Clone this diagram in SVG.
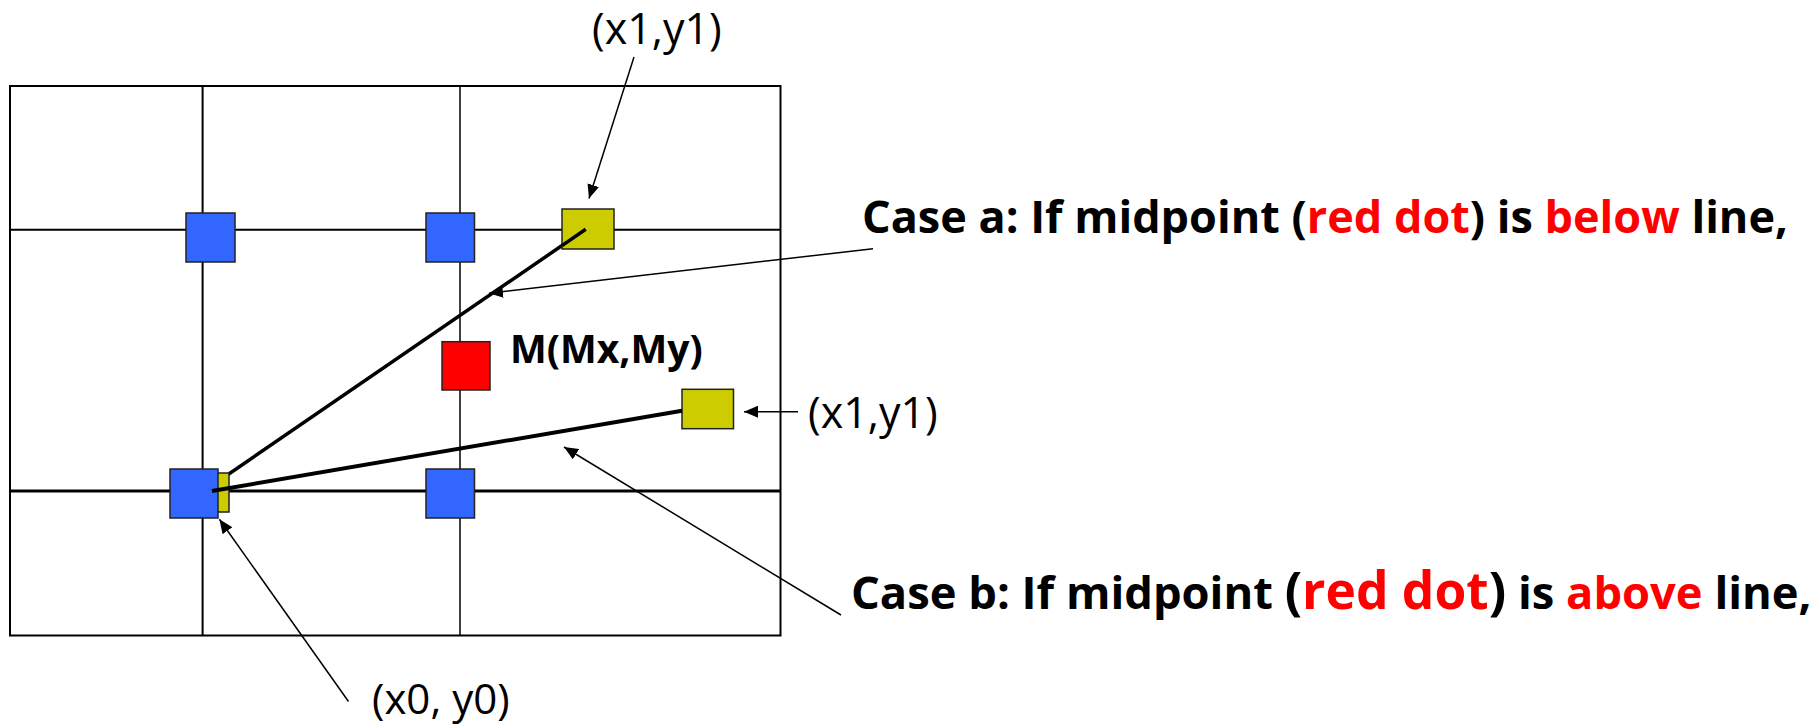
<svg xmlns="http://www.w3.org/2000/svg" width="1817" height="727" viewBox="0 0 1817 727">
<style>
.grid{stroke:#000;fill:none}
.sq{stroke:#222;stroke-width:1.5}
.blue{fill:#3366FF}
.yel{fill:#CCCC00}
.red{fill:#FF0000}
.thick{stroke:#000;fill:none}
.conn{stroke:#000;stroke-width:1.5;fill:none;marker-end:url(#ah)}
.lbl{font-family:"Open Sans","Noto Sans",sans-serif;fill:#000}
.big{font-family:"Open Sans","Noto Sans",sans-serif;font-weight:bold;fill:#000}
.r{fill:#FF0000}
</style>
<defs>
<marker id="ah" viewBox="0 0 14 12" refX="14" refY="6" markerWidth="14" markerHeight="12" markerUnits="userSpaceOnUse" orient="auto">
<path d="M0,0 L14,6 L0,12 Z" fill="#000"/>
</marker>
</defs>
<rect width="1817" height="727" fill="#fff"/>
<g id="grid">
<rect class="grid" x="10" y="86" width="770.5" height="549.5" stroke-width="2"/>
<line class="grid" x1="202.6" y1="86" x2="202.6" y2="635.5" stroke-width="2"/>
<line class="grid" x1="460" y1="86" x2="460" y2="635.5" stroke-width="1.5"/>
<line class="grid" x1="10" y1="229.7" x2="780.5" y2="229.7" stroke-width="2"/>
<line class="grid" x1="10" y1="491" x2="780.5" y2="491" stroke-width="3"/>
</g>
<g id="line-a"><line class="thick" x1="585.7" y1="229.3" x2="204" y2="491" stroke-width="3.5"/></g>
<g id="yellow-x0"><rect class="sq yel" x="178" y="473" width="51" height="39"/></g>
<g id="blue-1"><rect class="sq blue" x="186" y="213" width="49" height="49"/></g>
<g id="blue-2"><rect class="sq blue" x="426" y="213" width="48.5" height="49"/></g>
<g id="blue-3"><rect class="sq blue" x="170" y="469" width="48" height="49"/></g>
<g id="blue-4"><rect class="sq blue" x="426" y="469" width="48.5" height="49"/></g>
<g id="yellow-top"><rect class="sq yel" x="562" y="209" width="52" height="40"/></g>
<g id="line-a-top"><line class="thick" x1="585.7" y1="229.3" x2="562" y2="245.6" stroke-width="3.5"/></g>
<g id="red-m"><rect class="sq red" x="442" y="341.7" width="48" height="48.3"/></g>
<g id="yellow-right"><rect class="sq yel" x="682" y="389.3" width="51.5" height="39.4"/></g>
<g id="line-b"><line class="thick" x1="212" y1="491" x2="682" y2="410.7" stroke-width="4"/></g>
<g id="connectors">
<line class="conn" x1="634" y1="57" x2="589" y2="198.5"/>
<line class="conn" x1="873" y1="248.7" x2="489" y2="293.3"/>
<line class="conn" x1="798" y1="411.7" x2="744" y2="411.7"/>
<line class="conn" x1="841" y1="615" x2="564" y2="447"/>
<line class="conn" x1="348.5" y1="701.5" x2="219.4" y2="519.3"/>
</g>
<g id="label-x1y1-top"><text class="lbl" x="592" y="44" font-size="43">(x1,y1)</text></g>
<g id="label-x1y1-right"><text class="lbl" x="808" y="428" font-size="43">(x1,y1)</text></g>
<g id="label-x0y0"><text class="lbl" x="372" y="714" font-size="42">(x0, y0)</text></g>
<g id="label-m"><text class="big" x="510" y="363" font-size="39">M(Mx,My)</text></g>
<g id="case-a"><text class="big" x="862" y="233" font-size="45">Case a: If midpoint (<tspan class="r">red dot</tspan>) is <tspan class="r">below</tspan> line,</text></g>
<g id="case-b"><text class="big" x="851" y="609" font-size="45.3">Case b: If midpoint <tspan font-size="51.5">(<tspan class="r">red dot</tspan>)</tspan> is <tspan class="r">above</tspan> line,</text></g>
</svg>
